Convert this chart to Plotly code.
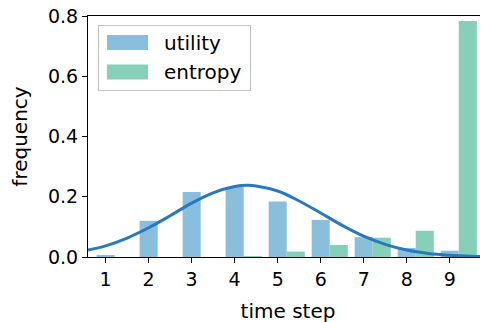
import plotly.graph_objects as go

steps = [1, 2, 3, 4, 5, 6, 7, 8, 9]
tick_labels = ["1", "2", "3", "4", "5", "6", "7", "8", "9"]
utility = [0.004, 0.120, 0.216, 0.233, 0.184, 0.123, 0.066, 0.030, 0.021]
entropy = [0.0, 0.0, 0.0, 0.003, 0.018, 0.040, 0.064, 0.087, 0.783]

curve_x = [0.59, 1.0, 1.5, 2.0, 2.5, 3.0, 3.5, 4.0, 4.3, 4.5, 5.0, 5.5, 6.0,
           6.5, 7.0, 7.5, 8.0, 8.5, 9.0, 9.5, 9.9]
curve_y = [0.023, 0.037, 0.063, 0.097, 0.137, 0.179, 0.213, 0.234, 0.238,
           0.236, 0.219, 0.186, 0.146, 0.105, 0.069, 0.042, 0.023, 0.012,
           0.006, 0.0024, 0.001]

BLUE = "#89bedc"
GREEN = "#86cfb9"
LINE = "#2a78bd"
FONT = "DejaVu Sans"
W = 0.42

# page has an 8px body margin; plot area should land at page x 88..488, y 16..257
OFF = 8
L, R, T, B = 88, 488, 16, 257

fig = go.Figure()
fig.add_trace(go.Bar(x=steps, y=utility, width=W, offset=-W / 2,
                     marker=dict(color=BLUE, line=dict(width=0)), name="utility"))
fig.add_trace(go.Bar(x=steps, y=entropy, width=W, offset=W / 2,
                     marker=dict(color=GREEN, line=dict(width=0)), name="entropy"))
fig.add_trace(go.Scatter(x=curve_x, y=curve_y, mode="lines",
                         line=dict(color=LINE, width=3, shape="spline"),
                         showlegend=False))

def px(x):
    return (x - L) / (R - L)
def py(y):
    return (B - y) / (B - T)

x0, x1, y0, y1 = px(98.5), px(250.5), py(90.5), py(25.5)
fig.add_shape(type="rect", xref="paper", yref="paper", x0=x0, x1=x1, y0=y0, y1=y1,
              line=dict(color="#c4c4c4", width=1.2), fillcolor="rgba(255,255,255,0.8)",
              layer="above")
for i, (name, col) in enumerate([("utility", BLUE), ("entropy", GREEN)]):
    cy = 42.5 + i * 29.5
    fig.add_shape(type="rect", xref="paper", yref="paper",
                  x0=px(107), x1=px(148), y0=py(cy + 7.5), y1=py(cy - 7.5),
                  line=dict(width=0), fillcolor=col, layer="above")
    fig.add_annotation(xref="paper", yref="paper", x=px(162), y=py(cy),
                       text=name, showarrow=False, xanchor="left", yanchor="middle",
                       font=dict(family=FONT, size=20, color="black"))

fig.update_layout(
    width=488, height=322,
    margin=dict(l=L - OFF, r=OFF, t=T - OFF, b=322 - (B - OFF), pad=0),
    paper_bgcolor="white", plot_bgcolor="white",
    showlegend=False, barmode="overlay",
    font=dict(family=FONT, size=19, color="black"),
)
fig.update_xaxes(range=[0.59, 9.89], tickmode="array", tickvals=steps, ticktext=tick_labels,
                 ticks="outside", ticklen=5, tickcolor="black", showline=True,
                 linecolor="black", linewidth=1, mirror=True, showgrid=False,
                 zeroline=False, automargin=False, ticklabeloverflow="allow",
                 title=dict(text="time step", standoff=15, font=dict(size=20)),
                 tickfont=dict(size=19))
fig.update_yaxes(range=[0, 0.8], tickvals=[0, 0.2, 0.4, 0.6, 0.8],
                 ticktext=["0.0", "0.2", "0.4", "0.6", "0.8"],
                 ticks="outside", ticklen=5, tickcolor="black", showline=True,
                 linecolor="black", linewidth=1, mirror=False, showgrid=False,
                 zeroline=False, automargin=False, ticklabeloverflow="allow",
                 title=dict(text="frequency", standoff=15, font=dict(size=20)),
                 tickfont=dict(size=19))

fig.write_html("out.html")
